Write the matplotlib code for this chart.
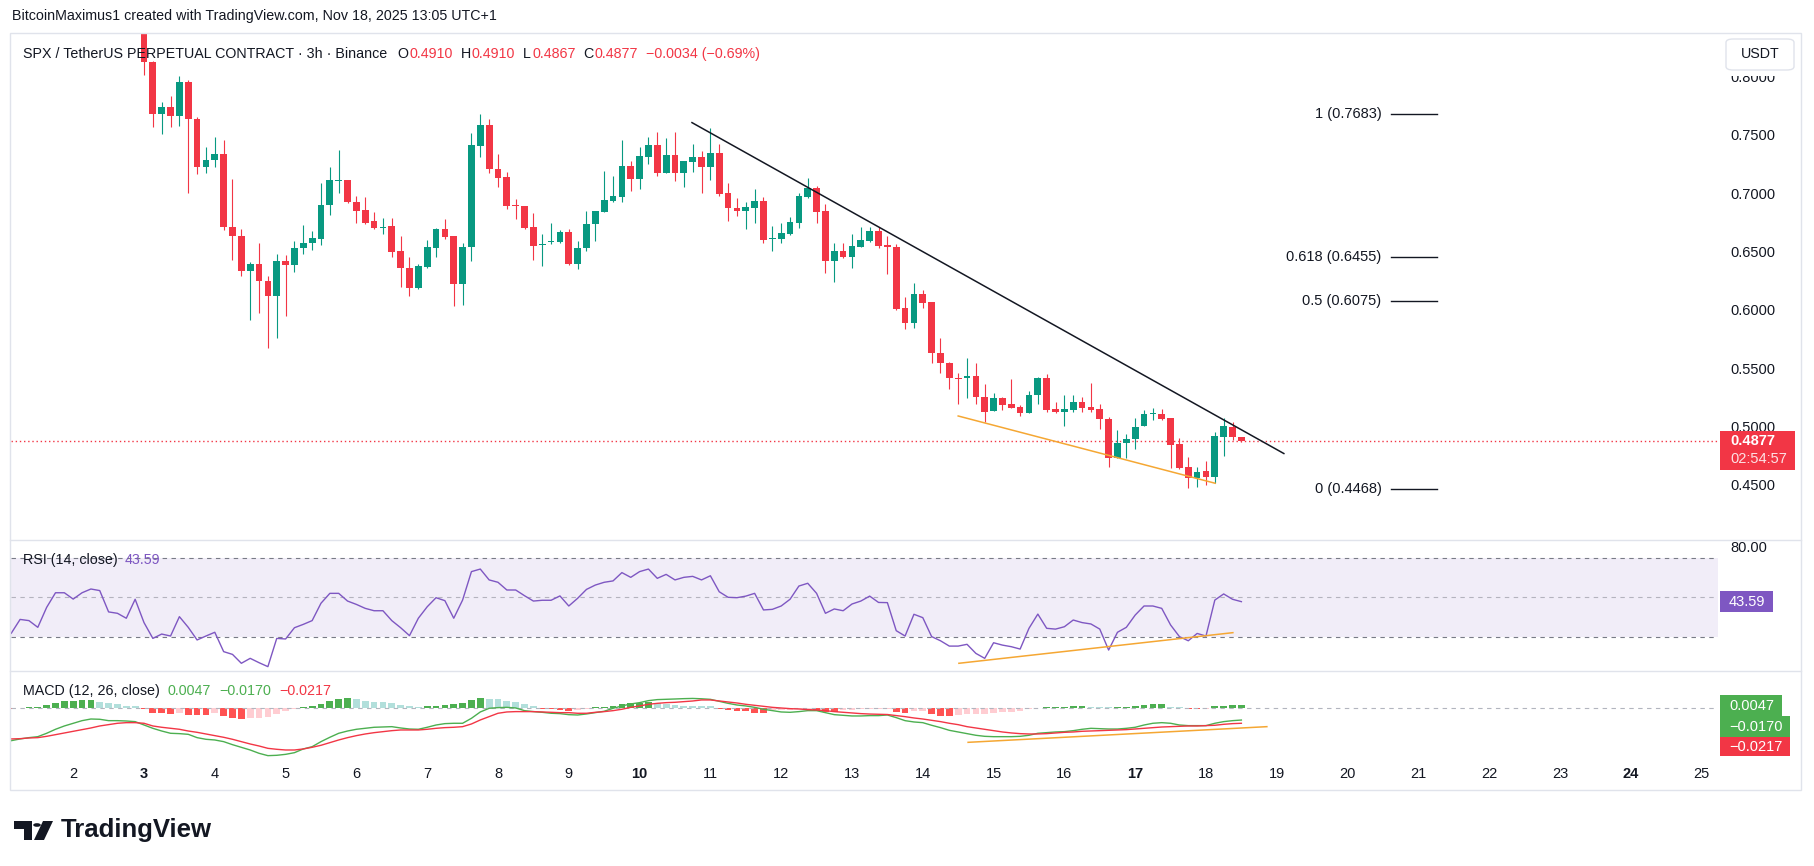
import numpy as np
import pandas as pd
import matplotlib
matplotlib.use("Agg")
import matplotlib.pyplot as plt
from matplotlib.patches import Rectangle, FancyBboxPatch, Polygon, Circle
from matplotlib.lines import Line2D

W, H = 1814, 866
plt.rcParams['font.family'] = ['Liberation Sans', 'DejaVu Sans']

GREEN = "#089981"
RED = "#F23645"
TXT = "#131722"
PURPLE = "#7E57C2"
ORANGE = "#F5A733"
FRAME = "#E0E3EB"
MACD_GREEN = "#4CAF50"

# ------------------------------------------------------------
# SPX/USDT 3h candles, Nov 3 00:00 -> Nov 18 12:00
# ------------------------------------------------------------
opens = [0.8500, 0.8128, 0.7676, 0.7736, 0.7665, 0.7957, 0.7634, 0.7227, 0.7285, 0.7336,
         0.6713, 0.6635, 0.6335, 0.6392, 0.6249, 0.6120, 0.6421, 0.6381, 0.6527, 0.6570,
         0.6607, 0.6899, 0.7108, 0.7113, 0.6921, 0.6856, 0.6761, 0.6700, 0.6718, 0.6504,
         0.6361, 0.6189, 0.6369, 0.6532, 0.6693, 0.6632, 0.6218, 0.6535, 0.7408, 0.7585,
         0.7205, 0.7136, 0.6895, 0.6893, 0.6707, 0.6560, 0.6578, 0.6578, 0.6670, 0.6392,
         0.6527, 0.6736, 0.6836, 0.6933, 0.6971, 0.7234, 0.7125, 0.7314, 0.7414, 0.7177,
         0.7328, 0.7177, 0.7271, 0.7308, 0.7228, 0.7343, 0.6999, 0.6874, 0.6851, 0.6876,
         0.6934, 0.6608, 0.6610, 0.6650, 0.6748, 0.6971, 0.7048, 0.6848, 0.6422, 0.6505,
         0.6456, 0.6542, 0.6593, 0.6676, 0.6556, 0.6542, 0.6013, 0.5890, 0.6136, 0.6070,
         0.5627, 0.5542, 0.5416, 0.5413, 0.5433, 0.5250, 0.5136, 0.5241, 0.5193, 0.5164,
         0.5118, 0.5270, 0.5413, 0.5147, 0.5127, 0.5141, 0.5207, 0.5164, 0.5147, 0.5061,
         0.4732, 0.4855, 0.4889, 0.5004, 0.5104, 0.5104, 0.5070, 0.4847, 0.4655, 0.4555,
         0.4618, 0.4569, 0.4912, 0.4998, 0.4910]
highs = [0.8600, 0.8134, 0.7785, 0.7834, 0.8005, 0.7971, 0.7656, 0.7393, 0.7479, 0.7456,
         0.7122, 0.6690, 0.6412, 0.6575, 0.6290, 0.6478, 0.6470, 0.6590, 0.6727, 0.6676,
         0.7084, 0.7227, 0.7370, 0.7113, 0.6976, 0.6970, 0.6841, 0.6784, 0.6784, 0.6632,
         0.6455, 0.6392, 0.6598, 0.6698, 0.6778, 0.6632, 0.6570, 0.7519, 0.7683, 0.7634,
         0.7336, 0.7185, 0.6947, 0.6893, 0.6833, 0.6650, 0.6747, 0.6684, 0.6690, 0.6590,
         0.6847, 0.6847, 0.7190, 0.7147, 0.7457, 0.7277, 0.7394, 0.7480, 0.7523, 0.7471,
         0.7523, 0.7280, 0.7423, 0.7363, 0.7557, 0.7423, 0.7085, 0.6956, 0.6922, 0.7036,
         0.6971, 0.6722, 0.6748, 0.6799, 0.7005, 0.7128, 0.7062, 0.6905, 0.6570, 0.6570,
         0.6648, 0.6713, 0.6708, 0.6713, 0.6633, 0.6565, 0.6107, 0.6233, 0.6170, 0.6070,
         0.5755, 0.5556, 0.5462, 0.5585, 0.5542, 0.5364, 0.5284, 0.5256, 0.5404, 0.5184,
         0.5304, 0.5427, 0.5450, 0.5213, 0.5270, 0.5270, 0.5256, 0.5376, 0.5193, 0.5078,
         0.4970, 0.4935, 0.5070, 0.5141, 0.5155, 0.5147, 0.5070, 0.4898, 0.4735, 0.4655,
         0.4704, 0.4955, 0.5070, 0.5041, 0.4910]
lows = [0.8014, 0.7571, 0.7505, 0.7571, 0.7579, 0.7004, 0.7164, 0.7170, 0.7227, 0.6684,
        0.6432, 0.6289, 0.5917, 0.5969, 0.5669, 0.5755, 0.5949, 0.6327, 0.6475, 0.6512,
        0.6555, 0.6813, 0.7004, 0.6913, 0.6747, 0.6733, 0.6690, 0.6655, 0.6455, 0.6198,
        0.6120, 0.6175, 0.6355, 0.6455, 0.6604, 0.6032, 0.6046, 0.6421, 0.7313, 0.7176,
        0.7050, 0.6864, 0.6776, 0.6690, 0.6432, 0.6375, 0.6561, 0.6570, 0.6384, 0.6347,
        0.6504, 0.6592, 0.6836, 0.6927, 0.6928, 0.7022, 0.7039, 0.7248, 0.7151, 0.7177,
        0.7108, 0.7057, 0.7185, 0.7005, 0.7114, 0.6979, 0.6765, 0.6805, 0.6693, 0.6742,
        0.6570, 0.6507, 0.6576, 0.6642, 0.6705, 0.6956, 0.6742, 0.6319, 0.6236, 0.6442,
        0.6356, 0.6542, 0.6579, 0.6527, 0.6304, 0.5998, 0.5833, 0.5841, 0.6013, 0.5541,
        0.5455, 0.5319, 0.5193, 0.5241, 0.5193, 0.5041, 0.5136, 0.5141, 0.5156, 0.5090,
        0.5113, 0.5193, 0.5127, 0.5113, 0.5007, 0.5127, 0.5127, 0.5127, 0.4978, 0.4655,
        0.4727, 0.4732, 0.4807, 0.5004, 0.5055, 0.5055, 0.4641, 0.4632, 0.4469, 0.4478,
        0.4498, 0.4512, 0.4749, 0.4884, 0.4867]
closes = [0.8128, 0.7676, 0.7736, 0.7665, 0.7957, 0.7634, 0.7227, 0.7285, 0.7336, 0.6713,
          0.6635, 0.6335, 0.6392, 0.6249, 0.6120, 0.6421, 0.6381, 0.6527, 0.6570, 0.6615,
          0.6899, 0.7113, 0.7112, 0.6921, 0.6847, 0.6747, 0.6704, 0.6706, 0.6498, 0.6361,
          0.6189, 0.6375, 0.6541, 0.6693, 0.6627, 0.6218, 0.6535, 0.7413, 0.7585, 0.7205,
          0.7133, 0.6893, 0.6890, 0.6698, 0.6547, 0.6566, 0.6582, 0.6670, 0.6392, 0.6527,
          0.6736, 0.6847, 0.6941, 0.6976, 0.7234, 0.7125, 0.7320, 0.7414, 0.7177, 0.7328,
          0.7177, 0.7280, 0.7308, 0.7228, 0.7343, 0.6994, 0.6871, 0.6851, 0.6879, 0.6934,
          0.6599, 0.6612, 0.6656, 0.6753, 0.6976, 0.7048, 0.6842, 0.6422, 0.6505, 0.6456,
          0.6547, 0.6599, 0.6676, 0.6550, 0.6536, 0.6007, 0.5890, 0.6136, 0.6061, 0.5627,
          0.5542, 0.5413, 0.5411, 0.5433, 0.5250, 0.5127, 0.5241, 0.5184, 0.5161, 0.5118,
          0.5270, 0.5413, 0.5141, 0.5127, 0.5147, 0.5207, 0.5161, 0.5141, 0.5061, 0.4732,
          0.4855, 0.4889, 0.4998, 0.5107, 0.5107, 0.5061, 0.4841, 0.4646, 0.4555, 0.4606,
          0.4569, 0.4918, 0.5004, 0.4911, 0.4877]

# indicators start 14 bars earlier (Nov 1 03:00), 140 bars
rsi_vals = [31.9, 38.9, 38.3, 34.9, 45.0, 52.4, 52.4, 49.2, 52.4, 54.3, 53.5, 42.7, 42.0, 39.5, 49.1,
            37.3, 29.3, 31.5, 30.5, 40.3, 34.9, 28.5, 30.5, 32.4, 22.6,
            21.2, 16.7, 19.2, 17.0, 15.0, 29.3, 29.0, 34.7, 36.4, 38.3,
            47.1, 52.1, 52.1, 48.2, 46.5, 44.5, 43.3, 43.3, 38.3, 34.7,
            30.7, 39.5, 45.3, 49.9, 48.4, 39.5, 48.7, 63.1, 64.4, 58.9,
            57.7, 53.8, 53.8, 50.9, 48.2, 48.6, 48.6, 50.8, 45.7, 49.6,
            54.1, 56.3, 57.7, 58.4, 62.6, 60.2, 63.1, 64.4, 59.7, 61.7,
            58.9, 60.2, 60.7,
            58.9, 61.0, 52.9, 50.1, 49.9, 50.7, 52.1,
            43.7, 44.0, 45.7, 49.1, 55.8, 57.2, 52.1, 42.0, 44.2, 43.3,
            46.7, 48.2, 50.7, 47.5, 47.4, 33.2, 30.5, 41.5, 39.8, 30.2,
            28.1, 25.4, 25.4, 26.3, 21.7, 19.2, 27.1, 25.9, 25.1, 23.9,
            34.4, 41.6, 34.4, 34.0, 35.2, 38.6, 37.3, 36.6, 34.0, 23.4,
            32.4, 34.9, 41.1, 45.7, 45.7, 44.5, 36.1, 30.2, 28.1, 31.8,
            30.5, 48.7, 51.8, 49.1, 47.9]

macd_line = [-0.0469, -0.0444, -0.0425, -0.0411, -0.0362, -0.0304, -0.0256, -0.0217, -0.0179, -0.0155,
             -0.0159, -0.0179, -0.0179, -0.0184, -0.0193,
             -0.0242, -0.0290, -0.0329, -0.0362, -0.0367, -0.0377, -0.0425, -0.0449, -0.0459, -0.0483,
             -0.0527, -0.0565, -0.0604, -0.0652, -0.0686, -0.0681, -0.0667, -0.0643, -0.0589, -0.0556,
             -0.0483, -0.0420, -0.0362, -0.0329, -0.0304, -0.0290, -0.0275, -0.0271, -0.0266, -0.0285,
             -0.0300, -0.0304, -0.0275, -0.0242, -0.0222, -0.0217, -0.0217, -0.0145, -0.0053, 0.0000,
             0.0010, 0.0014, 0.0005, -0.0034, -0.0048, -0.0058, -0.0072, -0.0077, -0.0092, -0.0097,
             -0.0082, -0.0063, -0.0043, 0.0000, 0.0034, 0.0063, 0.0082, 0.0111, 0.0126, 0.0130,
             0.0135, 0.0140, 0.0143,
             0.0138, 0.0130, 0.0101, 0.0072, 0.0048, 0.0034, 0.0014,
             -0.0014, -0.0034, -0.0053, -0.0058, -0.0048, -0.0034, -0.0034, -0.0063, -0.0092, -0.0101,
             -0.0111, -0.0111, -0.0106, -0.0106, -0.0097, -0.0135, -0.0179, -0.0198, -0.0208, -0.0246,
             -0.0280, -0.0319, -0.0343, -0.0367, -0.0391, -0.0406, -0.0411, -0.0411, -0.0411, -0.0406,
             -0.0391, -0.0362, -0.0353, -0.0343, -0.0338, -0.0324, -0.0304, -0.0290, -0.0295, -0.0300,
             -0.0300, -0.0290, -0.0275, -0.0242, -0.0217, -0.0208, -0.0217, -0.0242, -0.0251, -0.0251,
             -0.0251, -0.0217, -0.0193, -0.0179, -0.0170]

signal_line = [-0.0444, -0.0440, -0.0430, -0.0425, -0.0406, -0.0382, -0.0357, -0.0333, -0.0309, -0.0285,
               -0.0256, -0.0237, -0.0217, -0.0208, -0.0208,
               -0.0217, -0.0256, -0.0275, -0.0290, -0.0304, -0.0329, -0.0348, -0.0372, -0.0396, -0.0420,
               -0.0449, -0.0483, -0.0517, -0.0546, -0.0580, -0.0594, -0.0604, -0.0604, -0.0589, -0.0565,
               -0.0536, -0.0498, -0.0459, -0.0425, -0.0396, -0.0372, -0.0353, -0.0338, -0.0324, -0.0314,
               -0.0314, -0.0314, -0.0304, -0.0290, -0.0280, -0.0275, -0.0266, -0.0227, -0.0169, -0.0121,
               -0.0072, -0.0053, -0.0048, -0.0048, -0.0048, -0.0053, -0.0058, -0.0063, -0.0063, -0.0072,
               -0.0072, -0.0058, -0.0048, -0.0034, -0.0014, 0.0014, 0.0034, 0.0058, 0.0072, 0.0082,
               0.0087, 0.0097, 0.0106,
               0.0121, 0.0121, 0.0106, 0.0092, 0.0077, 0.0058, 0.0043,
               0.0029, 0.0014, 0.0005, -0.0005, -0.0010, -0.0019, -0.0024, -0.0034, -0.0048, -0.0058,
               -0.0068, -0.0077, -0.0083, -0.0087, -0.0090, -0.0106, -0.0121, -0.0140, -0.0155, -0.0174,
               -0.0193, -0.0217, -0.0237, -0.0266, -0.0285, -0.0304, -0.0324, -0.0343, -0.0357, -0.0367,
               -0.0372, -0.0372, -0.0367, -0.0357, -0.0348, -0.0343, -0.0333, -0.0329, -0.0324, -0.0319,
               -0.0314, -0.0309, -0.0300, -0.0290, -0.0280, -0.0271, -0.0266, -0.0261, -0.0256, -0.0256,
               -0.0251, -0.0246, -0.0232, -0.0222, -0.0217]

macd_hist = [-0.0014, 0.0010, 0.0014, 0.0024, 0.0048, 0.0082, 0.0106, 0.0111, 0.0114, 0.0116,
             0.0097, 0.0072, 0.0058, 0.0034, 0.0029,
             -0.0010, -0.0063, -0.0072, -0.0082, -0.0063, -0.0092, -0.0097, -0.0101, -0.0072, -0.0111,
             -0.0135, -0.0155, -0.0145, -0.0135, -0.0121, -0.0082, -0.0043, -0.0014, 0.0014, 0.0034,
             0.0063, 0.0106, 0.0140, 0.0150, 0.0135, 0.0111, 0.0097, 0.0087, 0.0072, 0.0048,
             0.0034, 0.0024, 0.0034, 0.0039, 0.0048, 0.0058, 0.0082, 0.0121, 0.0145, 0.0140,
             0.0130, 0.0111, 0.0087, 0.0063, 0.0034, -0.0014, -0.0016, -0.0024, -0.0034, -0.0024,
             -0.0005, 0.0014, 0.0024, 0.0039, 0.0058, 0.0072, 0.0082, 0.0087, 0.0072, 0.0058,
             0.0048, 0.0038, 0.0036,
             0.0034, 0.0032, -0.0005, -0.0024, -0.0034, -0.0043, -0.0063,
             -0.0072, -0.0029, -0.0024, -0.0019, -0.0010, -0.0005, -0.0034, -0.0048, -0.0053, -0.0029,
             -0.0024, -0.0014, -0.0010, -0.0007, -0.0004, -0.0053, -0.0063, -0.0043, -0.0040, -0.0087,
             -0.0106, -0.0111, -0.0097, -0.0087, -0.0082, -0.0077, -0.0068, -0.0058, -0.0048, -0.0034,
             -0.0010, 0.0010, 0.0014, 0.0019, 0.0024, 0.0027, 0.0029, 0.0024, 0.0019, 0.0014,
             0.0019, 0.0024, 0.0034, 0.0043, 0.0058, 0.0063, 0.0024, 0.0014, -0.0010, -0.0014,
             -0.0005, 0.0034, 0.0039, 0.0043, 0.0047]

# drawings (day-of-month, value)
trend_t, trend_p = [10.74, 19.10], [0.7606, 0.4768]
support_t, support_p = [14.50, 18.13], [0.5090, 0.4513]
rsi_trend_t, rsi_trend_v = [14.51, 18.38], [16.7, 32.2]
macd_trend_t, macd_trend_v = [14.64, 18.86], [-0.0493, -0.0266]
fib_levels = [1, 0.618, 0.5, 0]
fib_prices = [0.7683, 0.6455, 0.6075, 0.4468]
fib_t = [20.62, 21.26]

price_ticks = [0.45, 0.50, 0.55, 0.60, 0.65, 0.70, 0.75, 0.80]
day_ticks = list(range(2, 26))
bold_days = [3, 10, 17, 24]
rsi_last_label = "43.59"
countdown = "02:54:57"

# time axis
times = pd.date_range("2025-11-01 03:00", periods=len(rsi_vals), freq="3h")
t_all = np.asarray(times.day + times.hour / 24.0)
t_c = t_all[-len(closes):]

# ------------------------------------------------------------
fig = plt.figure(figsize=(W / 100, H / 100), dpi=100)
fig.patch.set_facecolor("white")
PL, PR = 11, 1718
X0, X1 = 1.1215, 25.232


def pane(top, bottom):
    a = fig.add_axes([PL / W, 1 - bottom / H, (PR - PL) / W, (bottom - top) / H])
    a.set_xlim(X0, X1)
    for s in a.spines.values():
        s.set_visible(False)
    a.set_facecolor("none")
    a.tick_params(length=0)
    a.set_xticks([])
    a.set_yticks([])
    return a


ax = pane(34, 539)
ax_rsi = pane(541, 670)
ax_macd = pane(672, 762)
ax.set_ylim(0.4035, 0.8366)
ax_rsi.set_ylim(13.3, 78.6)
ax_macd.set_ylim(-0.0778, 0.0526)

# candles
o = np.array(opens); hi = np.array(highs); lo = np.array(lows); c = np.array(closes)
col = np.where(c >= o, GREEN, RED)
ax.vlines(t_c, lo, hi, colors=col, lw=0.8, zorder=2)
ax.bar(t_c, np.maximum(np.abs(c - o), 0.0009), bottom=np.minimum(o, c), width=0.095,
       color=col, linewidth=0, zorder=3)

ax.axhline(c[-1], color=RED, lw=1.0, ls=(0, (1, 2)), zorder=1)
ax.plot(trend_t, trend_p, color=TXT, lw=1.1, zorder=4)
ax.plot(support_t, support_p, color=ORANGE, lw=1.1, zorder=4)
for lvl, p in zip(fib_levels, fib_prices):
    ax.plot(fib_t, [p, p], color=TXT, lw=1.0)
    ax.annotate(f"{lvl:g} ({p:.4f})", xy=(fib_t[0], p), xytext=(-10, 0),
                textcoords="offset pixels", ha="right", va="center", fontsize=10.5, color=TXT)

ax.yaxis.tick_right()
ax.set_yticks(price_ticks)
ax.set_yticklabels([f"{v:.4f}" for v in price_ticks])
ax.tick_params(axis="y", pad=8.6, labelsize=10.5, labelcolor=TXT)

# RSI
ax_rsi.axhspan(30, 70, color=PURPLE, alpha=0.1, lw=0)
ax_rsi.axhline(70, color="#787B86", lw=0.8, ls=(0, (4, 4)))
ax_rsi.axhline(50, color="#787B86", lw=0.8, ls=(0, (4, 4)), alpha=0.5)
ax_rsi.axhline(30, color="#787B86", lw=0.8, ls=(0, (4, 4)))
ax_rsi.plot(t_all, rsi_vals, color=PURPLE, lw=1.0)
ax_rsi.plot(rsi_trend_t, rsi_trend_v, color=ORANGE, lw=1.1)
ax_rsi.text(1 + 12 / (PR - PL), 1.0, "80.00", transform=ax_rsi.transAxes, va="top",
            ha="left", fontsize=10.5, color=TXT, clip_on=False)

# MACD
hist = np.array(macd_hist)
prev = np.concatenate([[hist[0]], hist[:-1]])
hcol = np.where(hist >= 0, np.where(hist > prev, MACD_GREEN, "#B2DFDB"),
                np.where(hist > prev, "#FFCDD2", "#FF5252"))
ax_macd.axhline(0, color="#B2B5BE", lw=0.8, ls=(0, (4, 4)))
ax_macd.bar(t_all, hist, width=0.095, color=hcol, linewidth=0)
ax_macd.plot(t_all, macd_line, color=MACD_GREEN, lw=1.0)
ax_macd.plot(t_all, signal_line, color=RED, lw=1.0)
ax_macd.plot(macd_trend_t, macd_trend_v, color=ORANGE, lw=1.1)

ax_macd.set_xticks(day_ticks)
ax_macd.set_xticklabels([str(d) for d in day_ticks])
ax_macd.tick_params(axis="x", pad=3.5, labelsize=10.5, labelcolor=TXT)
for lab, d in zip(ax_macd.get_xticklabels(), day_ticks):
    if d in bold_days:
        lab.set_fontweight("bold")

# ------------------------------------------------------------
# frame, separators
fig.patches.append(Rectangle((10 / W, 1 - 790 / H), 1791 / W, 757 / H, transform=fig.transFigure,
                             fill=False, edgecolor=FRAME, lw=1.0, zorder=0))
for yy in (540, 671):
    fig.lines.append(Line2D([10 / W, 1801 / W], [1 - yy / H] * 2, transform=fig.transFigure,
                            color=FRAME, lw=1.0))


def ypix(a, v):
    return H - a.transData.transform((X0, v))[1]


def fig_box(x0, y0, x1, y1, color, z=6):
    fig.patches.append(Rectangle((x0 / W, 1 - y1 / H), (x1 - x0) / W, (y1 - y0) / H,
                                 transform=fig.transFigure, facecolor=color, edgecolor="none",
                                 zorder=z))


def fig_txt(x, y, s, **kw):
    kw.setdefault("fontsize", 10.3)
    kw.setdefault("color", TXT)
    kw.setdefault("va", "center")
    return fig.text(x / W, 1 - y / H, s, zorder=8, **kw)


# USDT box (covers the top price label)
fig_box(1721, 35, 1799, 76, "white", z=5)
fig.patches.append(FancyBboxPatch((1726 / W, 1 - 70 / H), 68 / W, 31 / H,
                                  boxstyle="round,pad=0,rounding_size=0.004",
                                  transform=fig.transFigure, facecolor="white",
                                  edgecolor=FRAME, lw=1.0, zorder=6))
fig_txt(1760, 54.5, "USDT", ha="center", fontsize=10.3)

# last price label
yp = ypix(ax, c[-1])
fig_box(1720, yp - 10, 1795, yp + 29, RED)
fig_txt(1730, yp + 0.5, f"{c[-1]:.4f}", color="white", fontsize=10.5, fontweight="bold")
fig_txt(1730, yp + 18.5, countdown, color="white", fontsize=10.5, alpha=0.85)

# RSI label
yr = ypix(ax_rsi, rsi_vals[-1])
fig_box(1720, yr - 10.5, 1773, yr + 10.5, PURPLE)
fig_txt(1729, yr + 0.5, rsi_last_label, color="white", fontsize=10.5)

# MACD labels (stacked)
yh = ypix(ax_macd, macd_hist[-1])
boxes = [(f"{macd_hist[-1]:.4f}", MACD_GREEN, 1782, 21),
         (f"{macd_line[-1]:.4f}".replace("-", "\u2212"), MACD_GREEN, 1790, 21),
         (f"{signal_line[-1]:.4f}".replace("-", "\u2212"), RED, 1790, 19)]
ytop = yh - 10.5
for s, colr, x1, hgt in boxes:
    fig_box(1720, ytop, x1, ytop + hgt, colr)
    fig_txt(1729, ytop + hgt / 2 + 0.5, s, color="white", fontsize=10.5)
    ytop += hgt

# ------------------------------------------------------------
# legends
renderer = fig.canvas.get_renderer()


def run(x, y, parts, size=10.3):
    for s, colr, gap in parts:
        x += gap
        t = fig_txt(x, y, s, color=colr, fontsize=size)
        x += t.get_window_extent(renderer).width


fig_txt(12, 16, "BitcoinMaximus1 created with TradingView.com, Nov 18, 2025 13:05 UTC+1", fontsize=10.3)

chg = c[-1] - c[-2]
pct = chg / c[-2] * 100
fmt = lambda v: f"{v:.4f}"
run(23, 54, [("SPX / TetherUS PERPETUAL CONTRACT \u00b7 3h \u00b7 Binance", TXT, 0),
             ("O", TXT, 10), (fmt(o[-1]), RED, 1),
             ("H", TXT, 8), (fmt(hi[-1]), RED, 1),
             ("L", TXT, 8), (fmt(lo[-1]), RED, 1),
             ("C", TXT, 8), (fmt(c[-1]), RED, 1),
             (f"{chg:+.4f} ({pct:+.2f}%)".replace("-", "\u2212"), RED, 8)])
run(23, 560, [("RSI (14, close)", TXT, 0), (rsi_last_label, PURPLE, 7)])
run(23, 691, [("MACD (12, 26, close)", TXT, 0),
              (f"{macd_hist[-1]:.4f}", MACD_GREEN, 8),
              (f"{macd_line[-1]:.4f}".replace("-", "\u2212"), MACD_GREEN, 8),
              (f"{signal_line[-1]:.4f}".replace("-", "\u2212"), RED, 8)])

# TradingView logo
def fpoly(pts, **kw):
    fig.patches.append(Polygon([(x / W, 1 - y / H) for x, y in pts], closed=True,
                               transform=fig.transFigure, facecolor=TXT, edgecolor="none", **kw))


fpoly([(14, 821), (32, 821), (32, 840), (24, 840), (24, 829), (14, 829)])
fig.patches.append(Circle((37 / W, 1 - 825 / H), 3.8 / W, transform=fig.transFigure,
                          facecolor=TXT, edgecolor="none"))
fpoly([(43, 821), (53, 821), (44, 840), (34, 840)])
fig_txt(61, 830, "TradingView", fontsize=18.5, fontweight="bold")

fig.savefig("out.png", dpi=100, facecolor="white")
